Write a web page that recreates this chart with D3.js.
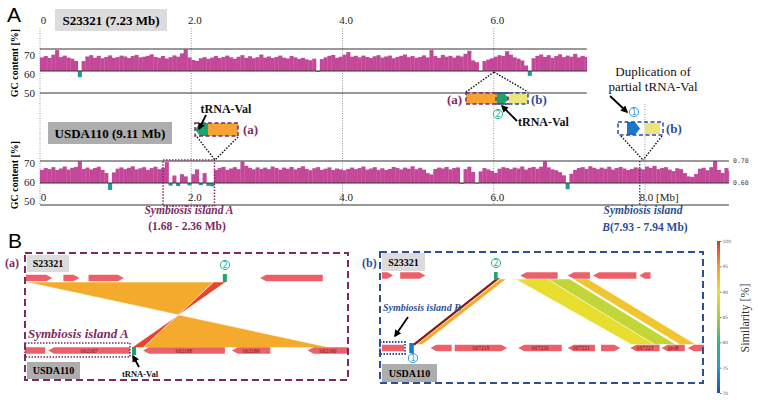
<!DOCTYPE html>
<html lang="en">
<head>
  <meta charset="utf-8">
  <title>GC content and symbiosis islands</title>
  <style>
  body { margin: 0; background: #fff; }
  text { font-family: "Liberation Serif", "DejaVu Serif", serif; }
  .panel { font-family: "Liberation Sans", Arial, sans-serif; font-size: 21px; }
  </style>
  <script src="https://d3js.org/d3.v7.min.js"></script>
</head>
<body>
  <svg width="758" height="402"></svg>
  <script>
  // ---- data ----
  var binMb = 0.05;
  var sizeS23321 = 7.23, sizeUSDA110 = 9.11;

  // GC content [%] per 50 kb window
  var gcS23321 = [
    66.2, 66.8, 66.0, 67.4, 69.5, 66.3, 67.0, 66.1, 65.6, 64.6, 57.2, 64.5, 66.6, 67.2, 66.0, 66.9, 65.8, 66.4, 67.1, 66.0,
    66.3, 67.0, 66.6, 65.9, 66.8, 67.3, 66.2, 66.5, 66.9, 67.6, 66.4, 66.0, 66.8, 65.7, 66.3, 67.1, 66.5, 68.0, 69.8, 66.2,
    65.0, 64.6, 65.8, 66.3, 65.5, 66.1, 66.8, 65.9, 66.4, 67.0, 66.2, 65.6, 66.5, 67.2, 66.0, 66.7, 65.8, 66.3, 67.5, 66.1,
    66.6, 65.9, 66.4, 67.0, 66.1, 65.7, 66.8, 66.2, 65.5, 66.0, 65.3, 64.9, 65.6, 59.6, 65.4, 66.2, 66.9, 67.3, 66.0, 66.5,
    67.4, 68.6, 66.5, 66.9, 66.2, 67.0, 66.4, 65.9, 66.7, 67.2, 66.1, 66.6, 67.0, 65.8, 66.4, 66.9, 67.5, 66.3, 66.8, 66.0,
    66.4, 67.1, 66.2, 69.5, 66.8, 66.0, 67.3, 66.5, 66.9, 66.1, 67.0, 66.6, 67.8, 69.2, 64.8, 64.0, 59.8, 64.5, 65.2, 65.8,
    66.5, 67.2, 66.8, 69.0, 67.4, 66.2, 65.6, 64.8, 62.5, 57.8, 65.8, 66.9, 67.5, 66.4, 67.2, 66.0, 66.8, 67.6, 66.3, 67.0,
    66.5, 67.8, 66.2, 66.9, 66.4
  ];
  var gcUSDA110 = [
    66.0, 66.8, 66.3, 67.2, 65.9, 66.6, 67.5, 66.1, 66.9, 67.3, 69.8, 66.4, 67.0, 66.2, 66.8, 67.4, 66.0, 64.5, 56.8, 64.8,
    66.5, 67.1, 66.3, 66.9, 67.6, 66.2, 66.7, 67.2, 66.0, 66.8, 67.4, 66.3, 66.9, 69.5, 58.8, 63.4, 58.6, 64.0, 63.0, 58.9,
    64.0, 66.2, 59.0, 64.5, 58.7, 58.5, 65.9, 66.8, 67.3, 66.0, 66.6, 67.2, 66.3, 69.7, 67.8, 66.9, 66.2, 67.1, 66.4, 67.0,
    66.3, 67.5, 66.8, 66.1, 67.0, 66.5, 67.3, 66.2, 66.9, 67.6, 66.4, 65.8, 66.7, 67.2, 66.0, 66.5, 67.1, 65.9, 66.6, 66.2,
    65.8, 66.4, 67.0, 66.3, 66.8, 67.5, 66.1, 66.6, 67.2, 66.0, 66.7, 65.9, 66.4, 67.3, 66.8, 66.2, 67.0, 66.5, 67.6, 66.3,
    66.9, 66.1, 64.5, 63.9, 66.4, 67.0, 66.6, 67.3, 66.2, 66.8, 67.1, 59.6, 66.3, 67.4, 65.0, 59.7, 65.3, 66.8, 66.2, 65.5,
    64.6, 66.5, 67.2, 66.8, 66.3, 67.0, 66.6, 67.5, 66.1, 66.9, 67.3, 66.5, 67.4, 69.8, 67.1, 66.2, 65.8, 64.9, 63.5, 57.2,
    64.2, 66.0, 66.8, 67.2, 66.4, 67.6, 66.9, 66.3, 67.0, 66.5, 67.4, 66.1, 66.8, 67.3, 66.6, 65.9, 66.4, 67.1, 66.7, 66.2,
    67.5, 66.9, 67.8, 66.3, 66.8, 67.2, 66.1, 65.4, 66.7, 66.3, 64.5, 63.0, 62.8, 64.1, 66.5, 66.9, 65.8, 67.2, 69.9, 66.0,
    64.6, 66.8, 65.5
  ];
  var mbTicksTop = [0, 2, 4, 6];
  var mbTicksBottom = [0, 2, 4, 6, 8];
  var gcTicks = [50, 60, 70];
  var islandA = [1.68, 2.36];
  var islandB = [7.93, 7.94];

  // panel B, positions in kb inside each 32 kb window; dir: 1 right, -1 left, 0 none
  var genesA_S23321 = [
    {s: 0.1, e: 2.7, dir: 1, name: ""}, {s: 3.8, e: 5.4, dir: 1, name: ""},
    {s: 6.3, e: 9.8, dir: 1, name: ""}, {s: 23.3, e: 29.5, dir: -1, name: ""}
  ];
  var genesA_USDA110 = [
    {s: 0, e: 2.0, dir: 0, name: ""}, {s: 2.3, e: 10.4, dir: -1, name: "bll2187"},
    {s: 11.7, e: 19.8, dir: -1, name: "bll2188"}, {s: 20.5, e: 24.3, dir: -1, name: "bll2189"},
    {s: 28.0, e: 32.0, dir: -1, name: "bll2190"}
  ];
  var trnaA = {top: [19.6, 20.0], bottom: [10.6, 11.0]};
  var ribbonsA = [
    {s1: 0.1, e1: 18.7, s2: 30.2, e2: 11.7, sim: 94},
    {s1: 18.7, e1: 19.9, s2: 11.7, e2: 10.6, sim: 99}
  ];

  var genesB_S23321 = [
    {s: 0.2, e: 1.3, dir: 1, name: ""}, {s: 2.0, e: 4.5, dir: 1, name: ""},
    {s: 13.9, e: 17.6, dir: -1, name: ""}, {s: 18.6, e: 20.8, dir: -1, name: ""},
    {s: 21.1, e: 25.4, dir: -1, name: ""}, {s: 25.7, e: 26.8, dir: -1, name: ""}
  ];
  var genesB_USDA110 = [
    {s: 0.2, e: 2.4, dir: 0, name: ""}, {s: 5.0, e: 7.1, dir: -1, name: ""},
    {s: 7.4, e: 12.6, dir: 1, name: "bll7219"}, {s: 13.7, e: 18.0, dir: -1, name: "bll7220"},
    {s: 18.6, e: 21.3, dir: -1, name: "bll7221"}, {s: 21.9, e: 23.8, dir: 1, name: ""},
    {s: 24.8, e: 27.7, dir: -1, name: "bll7223"}, {s: 27.9, e: 30.2, dir: -1, name: "groB"},
    {s: 30.5, e: 32.1, dir: -1, name: ""}
  ];
  var trnaB = {top: [11.3, 11.65], bottom: [2.9, 3.35]};
  var ribbonsB = [
    {s1: 11.9, e1: 12.5, s2: 3.6, e2: 4.2, sim: 94},
    {s1: 13.4, e1: 16.6, s2: 24.9, e2: 27.2, sim: 89.5},
    {s1: 16.6, e1: 18.8, s2: 27.2, e2: 29.3, sim: 87},
    {s1: 19.1, e1: 20.6, s2: 29.7, e2: 31.3, sim: 92},
    {s1: 11.55, e1: 11.7, s2: 3.3, e2: 3.45, sim: 100}
  ];

  var simTicks = [70, 75, 80, 85, 90, 95, 100];

  // ---- setup ----
  var svg = d3.select("svg");
  var magenta = "#c4489a", teal = "#1f9a9a", geneRed = "#eb6069";
  var purple = "#7d2a62", navy = "#2d4f95";

  var xMb = d3.scaleLinear().domain([0, 8]).range([40, 645]);
  var simColor = d3.scaleLinear()
      .domain([70, 75, 80, 85, 90, 95, 100])
      .range(["#1f4fae", "#1c9fd6", "#2fb77a", "#a6cf3f", "#eee02e", "#f59c2c", "#e4302c"]);

  var defs = svg.append("defs");
  defs.append("marker")
      .attr("id", "ah").attr("viewBox", "0 0 10 10")
      .attr("refX", 8).attr("refY", 5)
      .attr("markerWidth", 4).attr("markerHeight", 4)
      .attr("orient", "auto")
    .append("path").attr("d", "M0,0L10,5L0,10z").attr("fill", "#000");

  svg.append("text").attr("class", "panel").attr("x", 7).attr("y", 22).text("A");
  svg.append("text").attr("class", "panel").attr("x", 8).attr("y", 248).text("B");

  // vertical guide lines
  var guides = svg.append("g").attr("stroke", "#999").attr("stroke-dasharray", "1,1.5");
  mbTicksTop.forEach(function(t) {
    guides.append("line").attr("x1", xMb(t)).attr("x2", xMb(t)).attr("y1", 28).attr("y2", 205);
  });
  guides.append("line").attr("x1", xMb(8)).attr("x2", xMb(8)).attr("y1", 104).attr("y2", 205);

  function drawTrack(data, size, yTopLine, labBase) {
    var y = d3.scaleLinear().domain([50, 70]).range([yTopLine + 44, yTopLine]);
    var g = svg.append("g");
    g.selectAll("rect").data(data).join("rect")
        .attr("x", function(d, i) { return xMb(i * binMb); })
        .attr("width", function(d, i) { return xMb(Math.min((i + 1) * binMb, size)) - xMb(i * binMb) + 0.3; })
        .attr("y", function(d) { return d >= 60 ? y(d) : y(60); })
        .attr("height", function(d) { return Math.abs(y(d) - y(60)); })
        .attr("fill", function(d) { return d >= 60 ? magenta : teal; });
    g.selectAll("line").data(gcTicks).join("line")
        .attr("x1", xMb(0)).attr("x2", xMb(size))
        .attr("y1", function(d) { return y(d); }).attr("y2", function(d) { return y(d); })
        .attr("stroke", "#333").attr("stroke-width", 1);
    var lab = d3.scaleLinear().domain([50, 70]).range([labBase, labBase - 38]);
    g.selectAll(".gclab").data(gcTicks).join("text")
        .attr("class", "gclab")
        .attr("x", 35).attr("y", function(d) { return lab(d); })
        .attr("text-anchor", "end").style("font-size", "11px").attr("fill", "#222")
        .text(function(d) { return d; });
    g.append("text")
        .attr("transform", "translate(18," + (yTopLine + 14) + ") rotate(-90)")
        .attr("text-anchor", "middle").style("font-size", "10px").style("font-weight", "bold")
        .text("GC content  [%]");
    return y;
  }

  var yTop = drawTrack(gcS23321, sizeS23321, 49, 97);
  var yBot = drawTrack(gcUSDA110, sizeUSDA110, 161, 205);

  // x axes
  var fmt = function(d) { return d === 0 ? "0" : d.toFixed(1); };
  var axTop = svg.append("g").attr("transform", "translate(0,24)")
      .call(d3.axisTop(xMb).tickValues(mbTicksTop).tickSize(0).tickPadding(0).tickFormat(fmt));
  var axBot = svg.append("g").attr("transform", "translate(0,193)")
      .call(d3.axisBottom(xMb).tickValues(mbTicksBottom).tickSize(0).tickPadding(0).tickFormat(fmt));
  [axTop, axBot].forEach(function(ax) {
    ax.select(".domain").remove();
    ax.selectAll("text").attr("dx", 3).style("font-size", "11px")
        .style("font-family", "'Liberation Serif', serif").attr("fill", "#222");
  });
  axTop.selectAll("text").attr("dy", 0);
  axBot.selectAll("text").filter(function(d) { return d === 8; })
      .attr("text-anchor", "start").attr("dx", -6).text("8.0 [Mb]");

  svg.append("text").attr("x", 733).attr("y", yBot(70) + 2)
      .style("font-family", "'DejaVu Sans Mono', monospace").style("font-size", "6.5px").attr("fill", "#444").text("0.70");
  svg.append("text").attr("x", 733).attr("y", yBot(60) + 2)
      .style("font-family", "'DejaVu Sans Mono', monospace").style("font-size", "6.5px").attr("fill", "#444").text("0.60");

  // genome labels
  function nameBox(x, y, w, h, fill, label, size) {
    svg.append("rect").attr("x", x).attr("y", y).attr("width", w).attr("height", h).attr("fill", fill);
    svg.append("text").attr("x", x + w / 2).attr("y", y + h / 2 + size * 0.36)
        .attr("text-anchor", "middle").style("font-size", size + "px").style("font-weight", "bold").text(label);
  }
  nameBox(55, 9, 112, 22, "#dcdcdc", "S23321 (7.23 Mb)", 13);
  nameBox(48, 122, 124, 22, "#adadad", "USDA110 (9.11 Mb)", 13);

  // symbiosis islands
  svg.append("rect")
      .attr("x", xMb(islandA[0]) - 4).attr("y", 160)
      .attr("width", xMb(islandA[1]) - xMb(islandA[0])).attr("height", 46)
      .attr("fill", "none").attr("stroke", "#8a2a6a").attr("stroke-width", 1.5).attr("stroke-dasharray", "1.5,1.5");
  svg.append("line")
      .attr("x1", xMb(islandB[0])).attr("x2", xMb(islandB[0])).attr("y1", 161).attr("y2", 205)
      .attr("stroke", navy).attr("stroke-width", 1.4).attr("stroke-dasharray", "1.5,1.5");

  function label(x, y, txt, opts) {
    var t = svg.append("text").attr("x", x).attr("y", y).text(txt)
        .attr("text-anchor", opts.anchor || "start")
        .style("font-size", (opts.size || 12) + "px")
        .attr("fill", opts.fill || "#111");
    if (opts.bold) t.style("font-weight", "bold");
    if (opts.italic) t.style("font-style", "italic");
    return t;
  }
  label(189, 214, "Symbiosis island A", {anchor: "middle", bold: true, italic: true, fill: purple, size: 11.5});
  label(187, 230, "(1.68 - 2.36 Mb)", {anchor: "middle", bold: true, fill: purple, size: 11.5});
  label(643, 214, "Symbiosis island", {anchor: "middle", bold: true, italic: true, fill: navy, size: 11.5});
  var bl = label(645, 231, "", {anchor: "middle", bold: true, fill: navy, size: 11.5});
  bl.append("tspan").style("font-style", "italic").text("B");
  bl.append("tspan").text("(7.93 - 7.94 Mb)");

  // inset glyphs in panel A
  function dotted(x1, y1, x2, y2) {
    svg.append("line").attr("x1", x1).attr("y1", y1).attr("x2", x2).attr("y2", y2)
        .attr("stroke", "#111").attr("stroke-width", 1.4).attr("stroke-dasharray", "1.5,1.5");
  }
  function arrow(x1, y1, x2, y2) {
    svg.append("line").attr("x1", x1).attr("y1", y1).attr("x2", x2).attr("y2", y2)
        .attr("stroke", "#000").attr("stroke-width", 1.8).attr("marker-end", "url(#ah)");
  }
  function circled(cx, cy, n, color) {
    svg.append("circle").attr("cx", cx).attr("cy", cy).attr("r", 4.6)
        .attr("fill", "#fff").attr("stroke", color).attr("stroke-width", 1);
    svg.append("text").attr("x", cx).attr("y", cy + 2.8).attr("text-anchor", "middle")
        .style("font-size", "8px").style("font-family", "'DejaVu Sans', sans-serif").attr("fill", color).text(n);
  }
  function block(x, y, w, h, fill) {
    svg.append("rect").attr("x", x).attr("y", y).attr("width", w).attr("height", h).attr("fill", fill);
  }
  function chevron(x, y, w, h, dir, fill) {
    var p = dir > 0
      ? [[x, y], [x + w - 5, y], [x + w, y + h / 2], [x + w - 5, y + h], [x, y + h]]
      : [[x + 5, y], [x + w, y], [x + w, y + h], [x + 5, y + h], [x, y + h / 2]];
    svg.append("polygon").attr("points", p.join(" ")).attr("fill", fill);
  }
  function dashBox(x, y, w, h, color) {
    svg.append("rect").attr("x", x).attr("y", y).attr("width", w).attr("height", h)
        .attr("fill", "none").attr("stroke", color).attr("stroke-width", 1.5).attr("stroke-dasharray", "4,2.5");
  }

  // S23321 locus around 6.0 Mb
  dotted(494, 72, 466, 92);
  dotted(494, 72, 528, 92);
  block(466, 93, 31, 11, "#f7a235");
  chevron(497, 93, 12, 11, 1, "#1ea36a");
  block(509, 93, 19, 11, "#ece57a");
  dashBox(466, 93, 42, 11, purple);
  dashBox(496, 93, 32, 11, navy);
  label(447, 104, "(a)", {bold: true, fill: purple, size: 13});
  label(531, 104, "(b)", {bold: true, fill: navy, size: 13});
  circled(498, 114, "2", "#22b59e");
  arrow(517, 121, 502, 106);
  label(518, 126, "tRNA-Val", {bold: true, size: 12});

  // USDA110 island A
  dotted(197, 137, 215, 160);
  dotted(238, 137, 215, 160);
  chevron(195, 123, 13, 13, -1, "#1ea36a");
  block(208, 123, 30, 13, "#f7a235");
  dashBox(195, 123, 43, 13, purple);
  label(243, 134, "(a)", {bold: true, fill: purple, size: 13});
  label(226, 113, "tRNA-Val", {anchor: "middle", bold: true, size: 12});
  arrow(206, 115, 199, 129);

  // USDA110 island B
  dotted(621, 136, 643, 160);
  dotted(662, 136, 643, 160);
  chevron(627, 122, 13, 13, 1, "#1a78c8");
  block(645, 123, 15, 11, "#ece57a");
  dashBox(618, 122, 45, 13, navy);
  label(666, 133, "(b)", {bold: true, fill: navy, size: 13});
  circled(634, 112, "1", "#2f9fe0");
  label(653, 76, "Duplication of", {anchor: "middle", size: 13});
  label(653, 91, "partial tRNA-Val", {anchor: "middle", size: 13});
  arrow(610, 96, 627, 112);

  // ---- panel B ----
  function genePoints(x0, x1, yc, h, dir) {
    var hl = Math.min(6, (x1 - x0) * 0.5), t = yc - h / 2, b = yc + h / 2;
    if (dir > 0) return [[x0, t], [x1 - hl, t], [x1, yc], [x1 - hl, b], [x0, b]];
    if (dir < 0) return [[x0, yc], [x0 + hl, t], [x1, t], [x1, b], [x0 + hl, b]];
    return [[x0, t], [x1, t], [x1, b], [x0, b]];
  }
  function drawGenes(genes, x, yc) {
    var g = svg.append("g");
    g.selectAll("polygon").data(genes).join("polygon")
        .attr("points", function(d) { return genePoints(x(d.s), x(d.e), yc, 6.5, d.dir).join(" "); })
        .attr("fill", geneRed);
    g.selectAll("text").data(genes.filter(function(d) { return d.name; })).join("text")
        .attr("x", function(d) { return (x(d.s) + x(d.e)) / 2; }).attr("y", yc + 2)
        .attr("text-anchor", "middle").style("font-size", "5.5px").attr("fill", "#6a1a1a")
        .text(function(d) { return d.name; });
  }
  function drawRibbons(ribbons, x, yT, yB) {
    svg.append("g").selectAll("polygon").data(ribbons).join("polygon")
        .attr("points", function(d) {
          return [[x(d.s1), yT], [x(d.e1), yT], [x(d.e2), yB], [x(d.s2), yB]].join(" ");
        })
        .attr("fill", function(d) { return simColor(d.sim); })
        .attr("stroke", function(d) {
          return (d.e1 - d.s1) < 0.3 ? d3.color(simColor(d.sim)).darker(1.6) : "#fff";
        })
        .attr("stroke-width", function(d) { return (d.e1 - d.s1) < 0.3 ? 1.3 : 0.5; });
  }

  // (a)
  var xa = d3.scaleLinear().domain([0, 32]).range([25, 348]);
  drawRibbons(ribbonsA, xa, 282, 347.5);
  drawGenes(genesA_S23321, xa, 278);
  drawGenes(genesA_USDA110, xa, 350.5);
  block(xa(trnaA.top[0]), 274, xa(trnaA.top[1]) - xa(trnaA.top[0]), 8, "#1ea36a");
  block(xa(trnaA.bottom[0]), 347, xa(trnaA.bottom[1]) - xa(trnaA.bottom[0]), 8, "#1ea36a");
  svg.append("rect").attr("x", 25).attr("y", 253).attr("width", 323).attr("height", 127)
      .attr("fill", "none").attr("stroke", purple).attr("stroke-width", 2).attr("stroke-dasharray", "7,4");
  nameBox(27, 255, 42, 17, "#dcdcdc", "S23321", 10);
  nameBox(27, 362, 53, 17, "#adadad", "USDA110", 10);
  label(5, 267, "(a)", {bold: true, fill: purple, size: 12});
  circled(225, 265, "2", "#22b59e");
  label(28, 338, "Symbiosis island A", {bold: true, italic: true, fill: purple, size: 13});
  svg.append("rect").attr("x", 25).attr("y", 343).attr("width", 105).attr("height", 14)
      .attr("fill", "none").attr("stroke", purple).attr("stroke-width", 1.5).attr("stroke-dasharray", "1.5,1.5");
  arrow(139, 367, 133, 356);
  label(140, 377, "tRNA-Val", {anchor: "middle", bold: true, size: 8.5});

  // (b)
  var xb = d3.scaleLinear().domain([0, 32]).range([380, 703]);
  drawRibbons(ribbonsB, xb, 279, 344.5);
  drawGenes(genesB_S23321, xb, 275.5);
  drawGenes(genesB_USDA110, xb, 348);
  block(xb(trnaB.top[0]), 272, xb(trnaB.top[1]) - xb(trnaB.top[0]), 8, "#1ea36a");
  block(xb(trnaB.bottom[0]), 343, xb(trnaB.bottom[1]) - xb(trnaB.bottom[0]), 10, "#1a78c8");
  svg.append("rect").attr("x", 380).attr("y", 252).attr("width", 323).attr("height", 131)
      .attr("fill", "none").attr("stroke", navy).attr("stroke-width", 2).attr("stroke-dasharray", "7,4");
  nameBox(382, 253, 43, 18, "#dcdcdc", "S23321", 10);
  nameBox(382, 364, 55, 18, "#adadad", "USDA110", 10);
  label(362, 267, "(b)", {bold: true, fill: navy, size: 12});
  circled(496, 263, "2", "#22b59e");
  circled(413, 358, "1", "#2f9fe0");
  label(383, 311, "Symbiosis island B", {bold: true, italic: true, fill: navy, size: 10});
  arrow(408, 317, 395, 336);
  svg.append("rect").attr("x", 380).attr("y", 342).attr("width", 25).attr("height", 12)
      .attr("fill", "none").attr("stroke", navy).attr("stroke-width", 1.8).attr("stroke-dasharray", "1.5,1.5");

  // colour bar
  var yCb = d3.scaleLinear().domain([70, 100]).range([393, 241]);
  var grad = defs.append("linearGradient").attr("id", "cb")
      .attr("x1", 0).attr("x2", 0).attr("y1", 1).attr("y2", 0);
  simColor.domain().forEach(function(v) {
    grad.append("stop").attr("offset", (v - 70) / 30).attr("stop-color", simColor(v));
  });
  svg.append("rect").attr("x", 717).attr("y", yCb(100)).attr("width", 3)
      .attr("height", yCb(70) - yCb(100)).attr("fill", "url(#cb)");
  var cbAx = svg.append("g").attr("transform", "translate(720,0)")
      .call(d3.axisRight(yCb).tickValues(simTicks).tickSize(1.5).tickPadding(1));
  cbAx.select(".domain").remove();
  cbAx.selectAll("line").attr("stroke", "#777");
  cbAx.selectAll("text").style("font-size", "4.5px").style("font-family", "'DejaVu Sans', sans-serif").attr("fill", "#666");
  svg.append("text").attr("transform", "translate(749,318) rotate(-90)")
      .attr("text-anchor", "middle").style("font-size", "12px").attr("fill", "#333").text("Similarity [%]");
  </script>
</body>
</html>
